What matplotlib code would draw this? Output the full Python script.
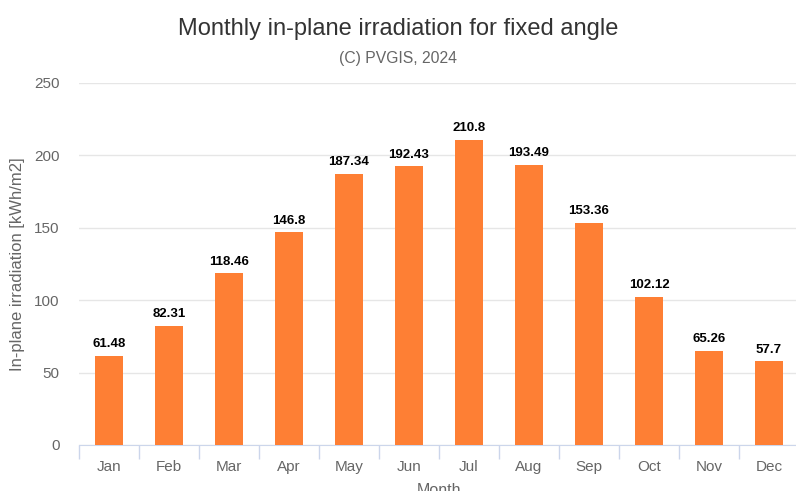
import matplotlib.pyplot as plt
import numpy as np

plt.rcParams['font.family'] = ['Liberation Sans', 'DejaVu Sans']

# Data
months = ["Jan", "Feb", "Mar", "Apr", "May", "Jun", "Jul", "Aug", "Sep", "Oct", "Nov", "Dec"]
irradiation = [61.48, 82.31, 118.46, 146.8, 187.34, 192.43, 210.8, 193.49, 153.36, 102.12, 65.26, 57.7]
y_ticks = [0, 50, 100, 150, 200, 250]

fig = plt.figure(figsize=(7.96, 4.91), dpi=100)
ax = fig.add_axes([79 / 796, 1 - 445 / 491, 720 / 796, 362 / 491])

x = np.arange(len(months))
ax.bar(x, irradiation, width=0.48, color="#fe7f34", zorder=3)

for xi, v in zip(x, irradiation):
    ax.text(xi, v + 4, f"{v:g}", ha="center", va="bottom",
            fontsize=9.5, fontweight="bold", color="black", zorder=4)

ax.set_xlim(-0.5, len(months) - 0.5)
ax.set_ylim(0, 250)
ax.set_yticks(y_ticks)
ax.set_yticklabels([str(t) for t in y_ticks], color="#666666", fontsize=11)
ax.grid(axis="y", color="#e6e6e6", linewidth=1, zorder=0)

# category ticks at boundaries, labels at centers
ax.set_xticks(np.arange(len(months) + 1) - 0.5)
ax.set_xticklabels([])
ax.set_xticks(x, minor=True)
ax.set_xticklabels(months, minor=True, color="#666666", fontsize=11)
ax.tick_params(axis="x", which="major", length=10, color="#ccd6eb", width=1)
ax.tick_params(axis="x", which="minor", length=0, pad=11)
ax.tick_params(axis="y", length=0, pad=14)

for s in ["top", "right", "left"]:
    ax.spines[s].set_visible(False)
ax.spines["bottom"].set_color("#ccd6eb")

ax.set_xlabel("Month", color="#666666", fontsize=11.5, labelpad=6)
fig.text(18 / 796, 1 - 264 / 491, "In-plane irradiation [kWh/m2]", rotation=90,
         ha="center", va="center", color="#666666", fontsize=12)

fig.text(0.5, 1 - 29 / 491, "Monthly in-plane irradiation for fixed angle",
         ha="center", va="center", fontsize=17, color="#333333")
fig.text(0.5, 1 - 58 / 491, "(C) PVGIS, 2024",
         ha="center", va="center", fontsize=11.3, color="#666666")

fig.savefig("out.png", dpi=100)
